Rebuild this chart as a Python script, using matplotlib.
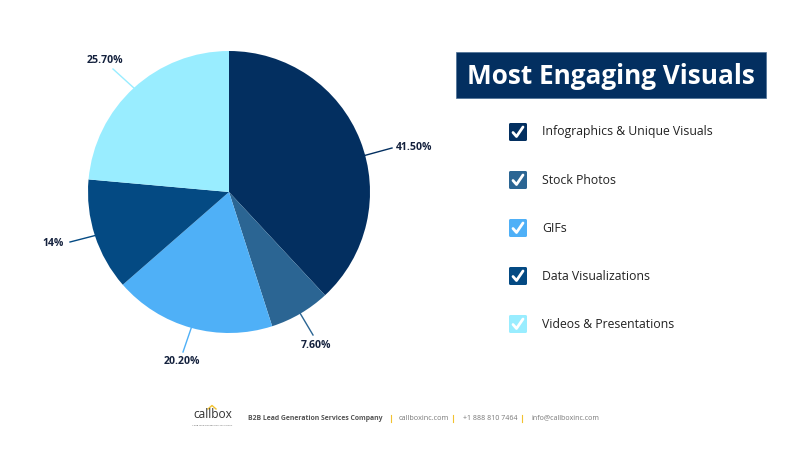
import numpy as np
import matplotlib
matplotlib.use("Agg")
import matplotlib.pyplot as plt
from matplotlib.patches import FancyBboxPatch, Rectangle

plt.rcParams["font.family"] = ["Open Sans", "DejaVu Sans"]

W, H = 800, 450

categories = ["Infographics & Unique Visuals", "Stock Photos", "GIFs", "Data Visualizations", "Videos & Presentations"]
values = [41.5, 7.6, 20.2, 14, 25.7]
value_labels = ["41.50%", "7.60%", "20.20%", "14%", "25.70%"]
colors = ["#032f60", "#2b6593", "#4fb0f7", "#044a83", "#99edff"]
label_xy = [(414.5, 147), (316, 345), (182, 361.5), (53.5, 243), (105, 60.5)]
leader_end = [(392, 148), (313, 335), (183, 352), (70, 242), (113, 69)]
leader_shift = [-6.4, 0, 0, 0, 0]  # degrees off the wedge middle
legend_y = [132, 180, 228, 276, 324]

fig = plt.figure(figsize=(W / 100, H / 100), dpi=100, facecolor="white")

# overlay in pixel coordinates for everything except the pie itself
bg = fig.add_axes([0, 0, 1, 1])
bg.set_xlim(0, W)
bg.set_ylim(H, 0)
bg.axis("off")

# pie centre (229, 192), radius 141 px
cx, cy, r = 229, 192, 141
ax = fig.add_axes([(cx - r) / W, 1 - (cy + r) / H, 2 * r / W, 2 * r / H])
wedges, _ = ax.pie(values, colors=colors, startangle=90, counterclock=False, radius=1)
ax.set_xlim(-1, 1)
ax.set_ylim(-1, 1)

# leader lines run from the arc of each wedge to its label
for w, lab, xy, end, shift in zip(wedges, value_labels, label_xy, leader_end, leader_shift):
    mid = np.deg2rad((w.theta1 + w.theta2) / 2 + shift)
    start = (cx + r * np.cos(mid), cy - r * np.sin(mid))
    bg.plot([start[0], end[0]], [start[1], end[1]], color=w.get_facecolor(), lw=1)
    bg.text(xy[0], xy[1], lab, ha="center", va="center", fontsize=7.6, fontweight="bold", color="#14213d")

# title box
bg.add_patch(Rectangle((456, 52), 310, 46, facecolor="#032f60", edgecolor="#4a6f94", lw=0.5))
bg.text(611, 76, "Most Engaging Visuals", ha="center", va="center", fontsize=18.8, fontweight="bold", color="white")

# legend with check boxes
for name, col, y in zip(categories, colors, legend_y):
    bg.add_patch(FancyBboxPatch((509, y - 9), 18, 18, boxstyle="round,pad=0,rounding_size=1.5", facecolor=col, edgecolor="none"))
    bg.plot([513, 516.5, 523], [y + 0.5, y + 4.5, y - 5], color="white", lw=2, solid_capstyle="round")
    bg.text(542, y, name, ha="left", va="center", fontsize=8.8, color="#222222")

# footer
bg.text(212.5, 415, "callbox", ha="center", va="center", fontsize=8.6, color="#333333")
bg.plot([208, 212, 216], [409, 405.5, 409], color="#f2c230", lw=1)
bg.text(212.5, 425, "A B2B LEAD GENERATION SOLUTIONS", ha="center", va="center", fontsize=1.6, color="#555555")
bg.text(248, 418, "B2B Lead Generation Services Company", ha="left", va="center", fontsize=4.95, fontweight="bold", color="#555555")
bg.text(399, 418, "callboxinc.com", ha="left", va="center", fontsize=5.2, color="#777777")
bg.text(463, 418, "+1 888 810 7464", ha="left", va="center", fontsize=5, color="#777777")
bg.text(531, 418, "info@callboxinc.com", ha="left", va="center", fontsize=5, color="#777777")
for x in [391, 453, 522]:
    bg.plot([x, x], [414.5, 421.5], color="#f2c230", lw=0.8)

fig.savefig("out.png", dpi=100)
